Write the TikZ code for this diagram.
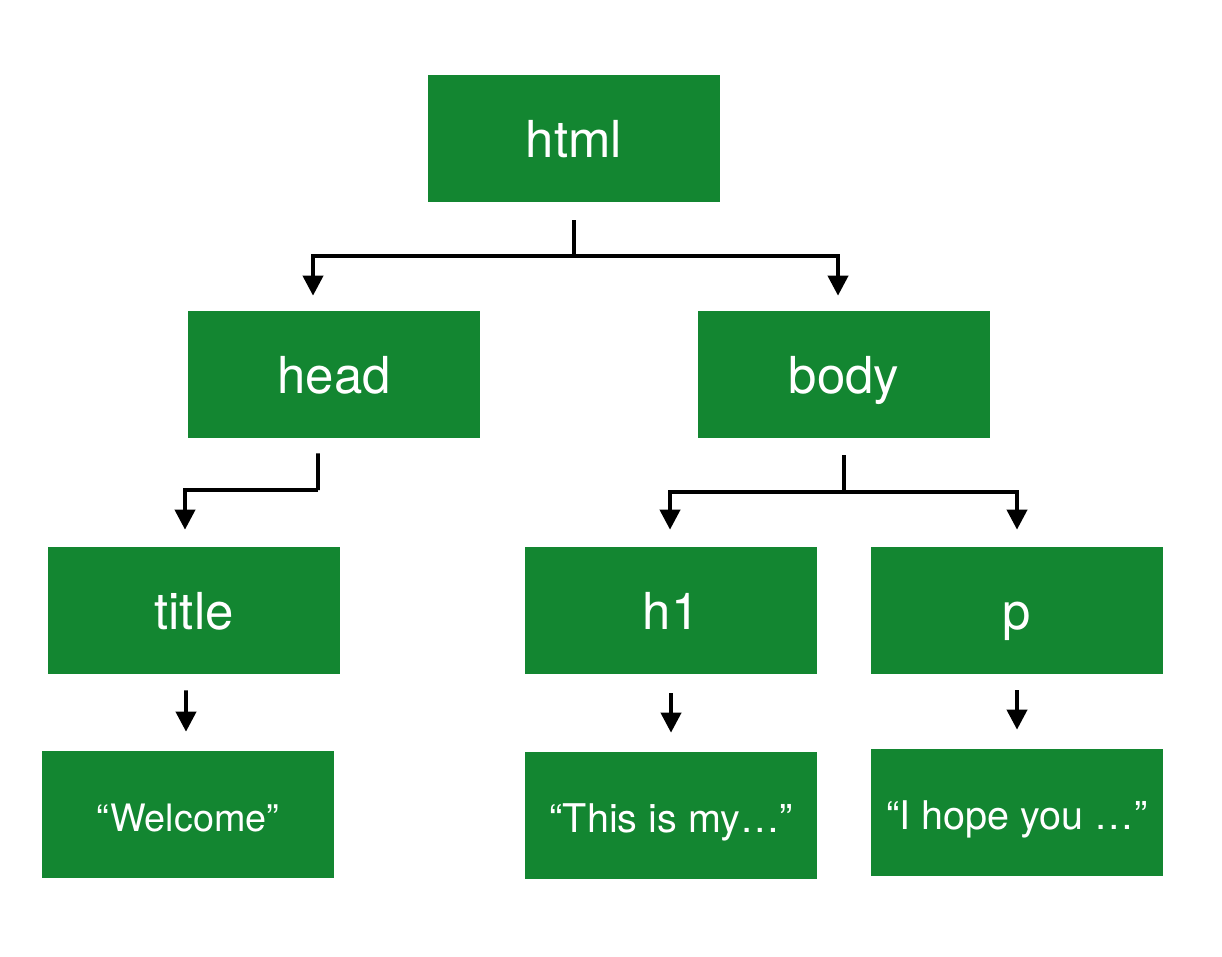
\documentclass[tikz,border=0pt]{standalone}
\usepackage{fontspec}
\setmainfont{TeX Gyre Heros}
\usetikzlibrary{arrows.meta}
\definecolor{taggreen}{RGB}{19,134,49}
\tikzset{
	tag/.style={fill=taggreen, text=white, inner sep=0pt, minimum width=5.84cm, minimum height=2.54cm,
		font=\fontsize{29}{34}\selectfont, text height=21.6pt, text depth=0pt},
	leaf/.style={tag, font=\fontsize{22.5}{27}\selectfont, text height=19pt},
	link/.style={line width=2.2pt},
	arrow/.style={link, -{Triangle[width=0.4cm, length=0.4cm]}}
}

\begin{document}
\begin{tikzpicture}[x=0.02cm, y=-0.02cm]
				\useasboundingbox (0,0) rectangle (1222,956);
				
				\node[tag] (html) at (574,138.5) {html};
				\node[tag] (head) at (334,374.5) {head};
				\node[tag] (body) at (844,374.5) {body};
				\node[tag] (title) at (194,610.5) {title};
				\node[tag] (h1) at (671,610.5) {h1};
				\node[tag] (p) at (1017,610.5) {p};
				
				\node[leaf, font=\fontsize{21.5}{26}\selectfont] (welcome) at (188,814.5) {“Welcome”};
				\node[leaf] (thisis) at (671,815.5) {“This is my…”};
				\node[leaf] (hope) at (1017,812.5) {“I hope you …”};
				
				\coordinate (htmlfork) at (574,256);
				\draw[link] ([yshift=-0.36cm]html.south) -- (htmlfork);
				\draw[arrow] (htmlfork) -| ([xshift=-0.42cm,yshift=0.3cm]head.north);
				\draw[arrow] (htmlfork) -| ([xshift=-0.12cm,yshift=0.3cm]body.north);
				
				\coordinate (headfork) at (318,490);
				\draw[link] ([xshift=-0.32cm,yshift=-0.3cm]head.south) -- (headfork);
				\draw[arrow] (headfork) -| ([xshift=-0.18cm,yshift=0.34cm]title.north);
				
				\coordinate (bodyfork) at (844,492);
				\draw[link] ([yshift=-0.34cm]body.south) -- (bodyfork);
				\draw[arrow] (bodyfork) -| ([xshift=-0.02cm,yshift=0.34cm]h1.north);
				\draw[arrow] (bodyfork) -| ([yshift=0.34cm]p.north);
				
				\draw[arrow] ([xshift=-0.16cm,yshift=-0.32cm]title.south) -- ([xshift=-0.04cm,yshift=0.38cm]welcome.north);
				\draw[arrow] ([yshift=-0.38cm]h1.south) -- ([yshift=0.38cm]thisis.north);
				\draw[arrow] ([yshift=-0.32cm]p.south) -- ([yshift=0.38cm]hope.north);
\end{tikzpicture}
\end{document}
